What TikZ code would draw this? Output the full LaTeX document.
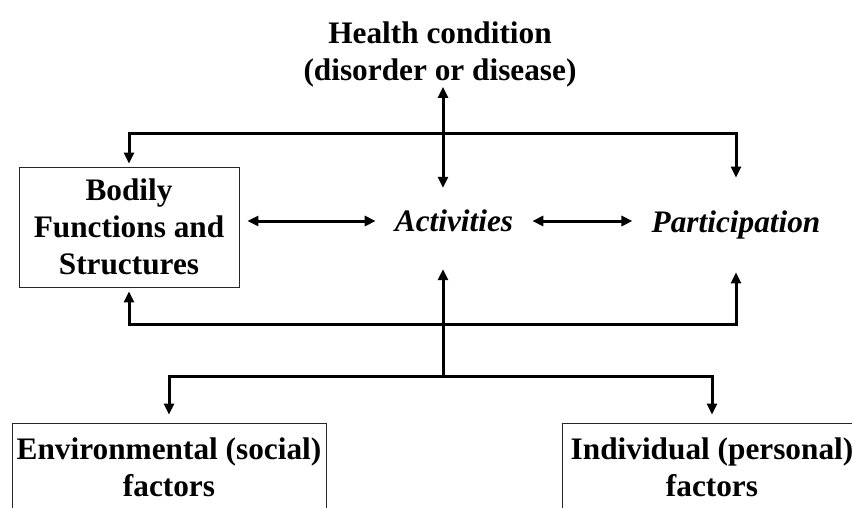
\documentclass[tikz,border=0pt]{standalone}
\usepackage{fontspec}
\setmainfont{Liberation Serif}
\usetikzlibrary{arrows.meta,positioning}

\begin{document}
\begin{tikzpicture}[
    x=1pt, y=1pt,
    >={Triangle[length=11pt,width=10pt]},
    font=\fontsize{31.3}{37}\selectfont\bfseries,
    factor/.style={
		rectangle,
		draw=black!85,
		line width=0.8pt,
		align=center,
		inner sep=0pt,
		fill=white
	},
	term/.style={
		font=\fontsize{31.3}{37}\selectfont\bfseries\itshape,
		inner xsep=19pt,
		inner ysep=22pt
	},
	link/.style={
		line width=3pt
	}
  ]
  \path [use as bounding box, fill=white] (0,0) rectangle (852,-507);

    % We start by placing the blocks
  \node [align=center, inner sep=0pt] (health) at (440,-54)
 {Health condition\\(disorder or disease)};

  \node [factor, minimum width=220pt, minimum height=120pt] (bodily) at (129,-227)
 {Bodily\\Functions and\\Structures};

  \node [term] (activities) at (454,-221) {Activities};

  \node [term, inner ysep=33pt] (participation) at (736,-225) {Participation};

  \node [factor, minimum width=314pt, minimum height=89pt] (environment) at (169,-467.5)
 {Environmental (social)\\factors};

  \node [factor, minimum width=300pt, minimum height=89pt] (individual) at (712,-467.5)
 {Individual (personal)\\factors};

  \coordinate (hubtop) at (443,-133);
  \coordinate (hubmid) at (443,-324);
  \coordinate (hublow) at (443,-376);

 \draw [link,<->] (health.south -| hubtop) -- (activities.north -| hubtop);
 \draw [link,->,shorten >=3pt] (hubtop) -| (bodily.north);
 \draw [link,->] (hubtop) -| (participation.north);
 \draw [link,<->,shorten <=8pt] (bodily.east |- activities.west) -- (activities.west);
 \draw [link,<->] (activities.east) -- (participation.west |- activities.east);
 \draw [link,->,shorten >=15pt] (hublow) -- (activities.south -| hublow);
 \draw [link,->,shorten >=4pt] (hubmid) -| (bodily.south);
 \draw [link,->] (hubmid) -| (participation.south);
 \draw [link,->,shorten >=8pt] (hublow) -| (environment.north);
 \draw [link,->,shorten >=8pt] (hublow) -| (individual.north);

\end{tikzpicture}
\end{document}
